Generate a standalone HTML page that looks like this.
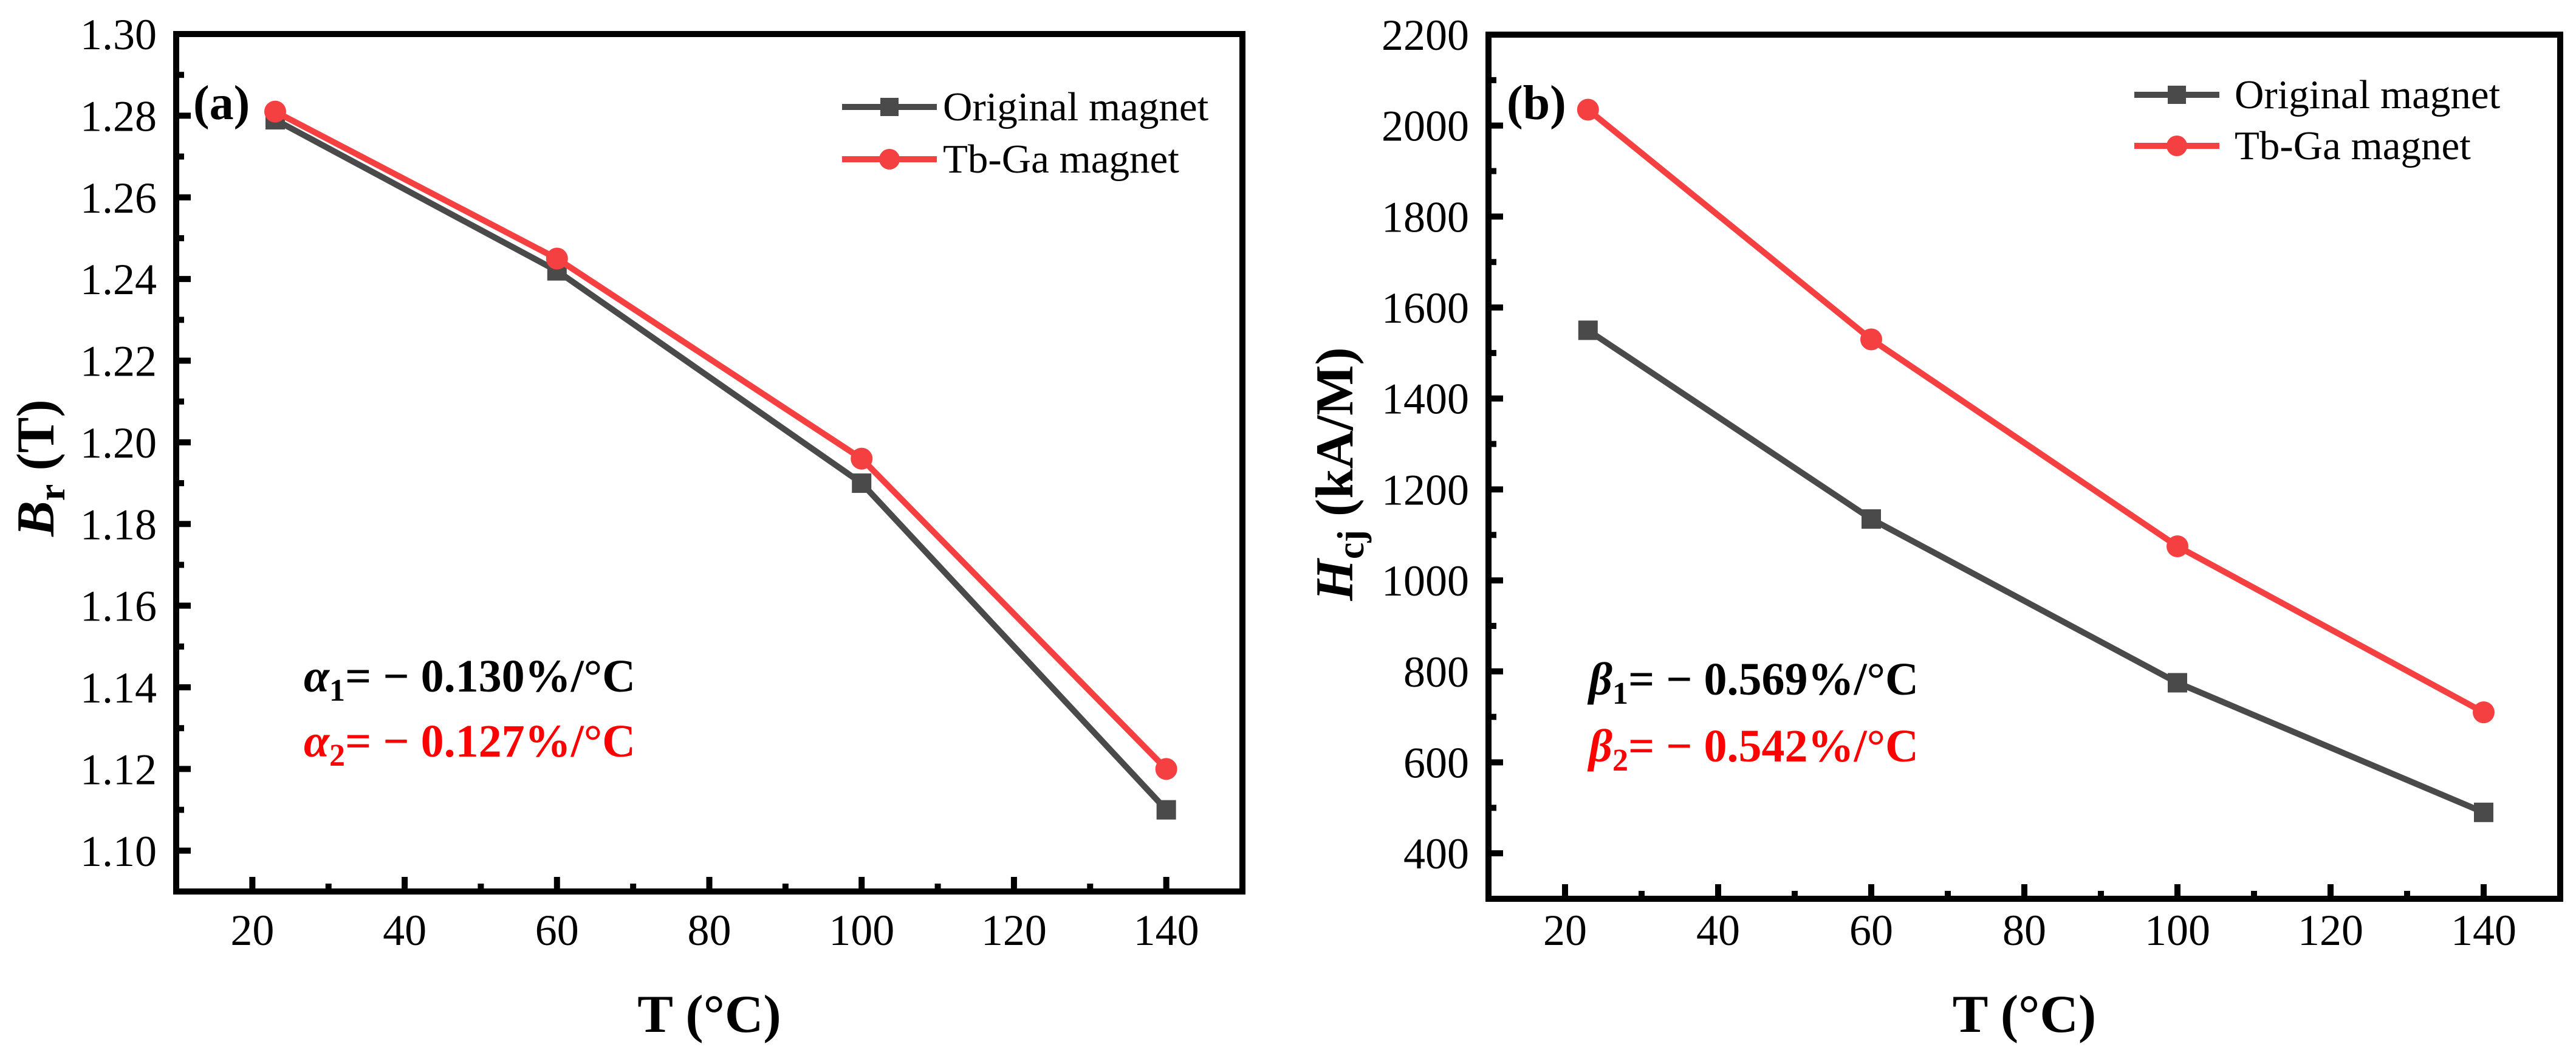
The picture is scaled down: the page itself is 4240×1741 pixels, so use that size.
<!DOCTYPE html>
<html><head><meta charset="utf-8"><style>
body{margin:0;background:#fff}
svg{display:block;font-family:"Liberation Serif","Times New Roman",serif}
</style></head><body>
<svg id="fig" width="4240" height="1741" viewBox="0 0 4240 1741" xmlns="http://www.w3.org/2000/svg"></svg>
<script>
const temps = [23, 60, 100, 140];
const brOriginal = [1.279, 1.242, 1.190, 1.110];
const brTbGa = [1.281, 1.245, 1.196, 1.120];
const hcjOriginal = [1550, 1135, 775, 490];
const hcjTbGa = [2035, 1530, 1075, 710];
const xTicks = [20, 40, 60, 80, 100, 120, 140];
const brTicks = ["1.10","1.12","1.14","1.16","1.18","1.20","1.22","1.24","1.26","1.28","1.30"];
const hcjTicks = ["400","600","800","1000","1200","1400","1600","1800","2000","2200"];

const NS = "http://www.w3.org/2000/svg";
const svg = document.getElementById("fig");
function el(tag, attrs, parent, text){
  const e = document.createElementNS(NS, tag);
  for (const k in attrs) e.setAttribute(k, attrs[k]);
  if (text !== undefined) e.textContent = text;
  (parent || svg).appendChild(e);
  return e;
}

function panel(cfg){
  const g = el("g", {});
  
  
  const L=cfg.L,R=cfg.R,T=cfg.T,B=cfg.B;
  const sx = v => L + (v - 10) / 140 * (R - L);
  const sy = v => B - (v - cfg.ymin) / (cfg.ymax - cfg.ymin) * (B - T);
  for (let v = 20; v <= 140; v += 10){
    const major = v % 20 === 0;
    const t = el("line",{x1:sx(v),x2:sx(v),y1:B,y2:B-(major?24:13),stroke:"#000","stroke-width":10},g);
    
    
  }
  xTicks.forEach(v=>{
    const t = el("text",{x:sx(v),y:1555,"font-size":72,"text-anchor":"middle"},g,String(v));
    
    
  });
  cfg.ticks.forEach((lab,i)=>{
    const v = parseFloat(lab);
    const y = sy(v);
    const t = el("line",{x1:L,x2:L+24,y1:y,y2:y,stroke:"#000","stroke-width":10},g);
    
    
    if (i < cfg.ticks.length - 1){
      const vm = v + cfg.step/2;
      const m = el("line",{x1:L,x2:L+13,y1:sy(vm),y2:sy(vm),stroke:"#000","stroke-width":10},g);
      
      
    }
    const tl = el("text",{x:cfg.labelRight,y:y+25,"font-size":72,"text-anchor":"end"},g,lab);
    
    
  });
  const box = el("rect",{x:L,y:T,width:R-L,height:B-T,fill:"none",stroke:"#000","stroke-width":10},g);
  
  
  function series(vals, color, marker, name){
    const pts = temps.map((t,i)=>sx(t)+","+sy(vals[i])).join(" ");
    const pl = el("polyline",{points:pts,fill:"none",stroke:color,"stroke-width":10,"stroke-linejoin":"round"},g);
    
    
    temps.forEach((t,i)=>{
      let m;
      if (marker==="sq") m = el("rect",{x:sx(t)-16,y:sy(vals[i])-16,width:32,height:32,fill:color},g);
      else m = el("circle",{cx:sx(t),cy:sy(vals[i]),r:18,fill:color},g);
      
      
    });
  }
  series(cfg.orig, "#4a4a4a", "sq", "original-magnet");
  series(cfg.tbga, "#f44040", "ci", "tb-ga-magnet");
  const lg = el("g",{},g);
  
  
  [[cfg.leg.y1,"#4a4a4a","sq","Original magnet"],[cfg.leg.y2,"#f44040","ci","Tb-Ga magnet"]].forEach(r=>{
    const e = el("g",{},lg);
    
    
    el("line",{x1:cfg.leg.x1,x2:cfg.leg.x2,y1:r[0],y2:r[0],stroke:r[1],"stroke-width":10},e);
    const cx=(cfg.leg.x1+cfg.leg.x2)/2;
    if (r[2]==="sq") el("rect",{x:cx-15,y:r[0]-15,width:30,height:30,fill:r[1]},e);
    else el("circle",{cx:cx,cy:r[0],r:17,fill:r[1]},e);
    el("text",{x:cfg.leg.tx,y:r[0]+22,"font-size":67},e,r[3]);
  });
  const pl = el("text",{x:cfg.plx,y:196,"font-size":80,"font-weight":"bold"},g,cfg.plabel);
  
  
  const a1 = el("text",{x:cfg.ax,y:cfg.ay1,"font-size":76,"font-weight":"bold",fill:"#000"},g);
  
  
  el("tspan",{"font-style":"italic"},a1,cfg.sym);
  el("tspan",{"font-size":52,dy:15},a1,"1");
  el("tspan",{dy:-15},a1,"= − "+cfg.c1+"%/°C");
  const a2 = el("text",{x:cfg.ax,y:cfg.ay2,"font-size":76,"font-weight":"bold",fill:"#f00"},g);
  
  
  el("tspan",{"font-style":"italic"},a2,cfg.sym);
  el("tspan",{"font-size":52,dy:15},a2,"2");
  el("tspan",{dy:-15},a2,"= − "+cfg.c2+"%/°C");
  const xt = el("text",{x:(L+R)/2,y:1698,"font-size":88,"font-weight":"bold","text-anchor":"middle"},g,"T (°C)");
  
  
  const yt = el("text",{x:0,y:0,"font-size":88,"font-weight":"bold","text-anchor":"middle",transform:"translate("+cfg.ytx+","+cfg.yty+") rotate(-90)"},g);
  
  
  el("tspan",{"font-style":"italic"},yt,cfg.yvar);
  el("tspan",{"font-size":62,dy:18},yt,cfg.ysub);
  el("tspan",{dy:-18},yt," "+cfg.yunit);
}

panel({name:"panel-a-remanence",L:290,R:2045,T:56,B:1467,ymin:1.09,ymax:1.30,step:0.02,ticks:brTicks,labelRight:258,
  orig:brOriginal,tbga:brTbGa,leg:{x1:1386,x2:1542,tx:1552,y1:176,y2:262},plx:318,plabel:"(a)",
  sym:"α",c1:"0.130",c2:"0.127",ax:500,ay1:1138,ay2:1245,ytx:88,yty:770,yvar:"B",ysub:"r",yunit:"(T)"});
panel({name:"panel-b-coercivity",L:2450,R:4214,T:57,B:1479,ymin:300,ymax:2200,step:200,ticks:hcjTicks,labelRight:2418,
  orig:hcjOriginal,tbga:hcjTbGa,leg:{x1:3513,x2:3653,tx:3678,y1:156,y2:240},plx:2480,plabel:"(b)",
  sym:"β",c1:"0.569",c2:"0.542",ax:2615,ay1:1143,ay2:1253,ytx:2226,yty:780,yvar:"H",ysub:"cj",yunit:"(kA/M)"});
</script>
</body></html>
